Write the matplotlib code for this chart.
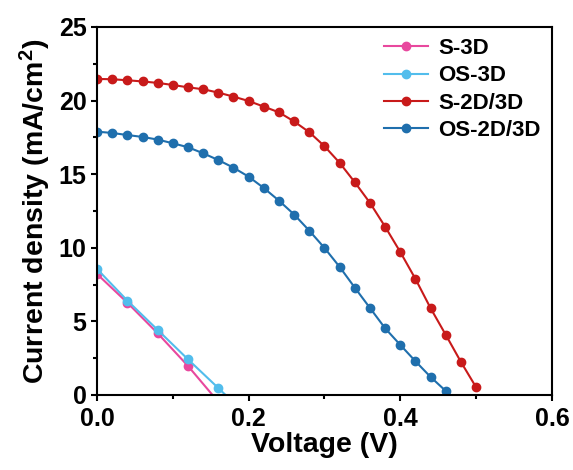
import numpy as np
import matplotlib
matplotlib.use("Agg")
import matplotlib.pyplot as plt
from matplotlib.ticker import MultipleLocator, FormatStrFormatter

plt.rcParams['font.family'] = ['Liberation Sans', 'DejaVu Sans']
plt.rcParams['font.weight'] = 'bold'
plt.rcParams['mathtext.fontset'] = 'custom'
plt.rcParams['mathtext.bf'] = 'Liberation Sans:bold'

# J-V data
v_s3d = [0.00, 0.04, 0.08, 0.12, 0.16]
j_s3d = [8.22, 6.27, 4.19, 1.97, -0.47]

v_os3d = [0.00, 0.04, 0.08, 0.12, 0.16, 0.20]
j_os3d = [8.56, 6.41, 4.42, 2.42, 0.47, -1.5]

v_s2d = np.round(np.arange(0, 0.501, 0.02), 2)
j_s2d = [21.47, 21.45, 21.38, 21.30, 21.20, 21.06, 20.90, 20.77, 20.54,
         20.27, 19.97, 19.59, 19.20, 18.58, 17.85, 16.90, 15.77, 14.45,
         13.05, 11.43, 9.71, 7.88, 5.89, 4.08, 2.24, 0.52]

v_os2d = np.round(np.arange(0, 0.461, 0.02), 2)
j_os2d = [17.89, 17.80, 17.66, 17.53, 17.35, 17.10, 16.83, 16.42, 15.96,
          15.44, 14.83, 14.06, 13.20, 12.26, 11.16, 9.99, 8.70, 7.29,
          5.91, 4.53, 3.40, 2.29, 1.22, 0.27]

series = [
    ("S-3D", v_s3d, j_s3d, "#e8489e"),
    ("OS-3D", v_os3d, j_os3d, "#52bdec"),
    ("S-2D/3D", v_s2d, j_s2d, "#c81a1a"),
    ("OS-2D/3D", v_os2d, j_os2d, "#1f6fad"),
]

fig = plt.figure(figsize=(5.73, 4.70), dpi=100)
ax = fig.add_axes([0.1693, 0.1596, 0.794, 0.783])

for name, v, j, c in series:
    ax.plot(v, j, '-o', color=c, lw=1.5, ms=6, mec=c, mfc=c, label=name)

ax.set_xlim(0, 0.6)
ax.set_ylim(0, 25)
ax.xaxis.set_major_locator(MultipleLocator(0.2))
ax.xaxis.set_minor_locator(MultipleLocator(0.1))
ax.yaxis.set_major_locator(MultipleLocator(5))
ax.yaxis.set_minor_locator(MultipleLocator(2.5))
ax.xaxis.set_major_formatter(FormatStrFormatter('%.1f'))
ax.tick_params(which='major', length=4.5, width=1.5, labelsize=18, pad=4)
ax.tick_params(which='minor', length=3, width=1.5)
ax.tick_params(axis='y', which='major', pad=3)
for s in ax.spines.values():
    s.set_linewidth(1.5)

ax.set_xlabel('Voltage (V)', fontsize=20.5, fontweight='bold', labelpad=1)
ax.set_ylabel('Current density (mA/cm$\\mathbf{^2}$)', fontsize=20.5,
              fontweight='bold', labelpad=4)

ax.legend(loc='upper right', frameon=False, handlelength=2.0,
          borderaxespad=0.1, labelspacing=0.28, handletextpad=0.45,
          prop={'weight': 'bold', 'size': 16})

fig.savefig('out.png', dpi=100)
